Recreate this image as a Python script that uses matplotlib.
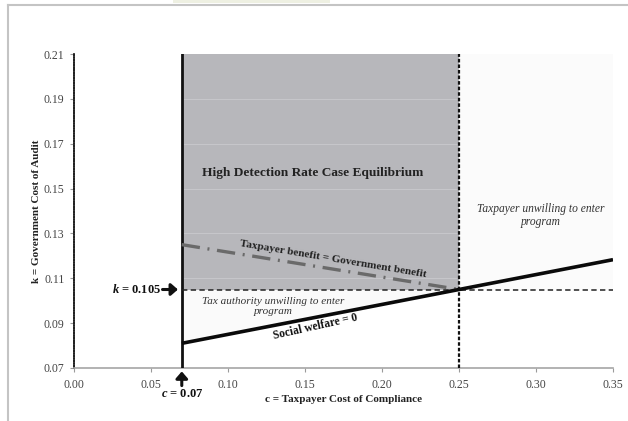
import matplotlib
matplotlib.use("Agg")
from matplotlib import pyplot as plt
from matplotlib.lines import Line2D
from matplotlib.patches import Rectangle
import numpy as np

# axis ticks
x_ticks = [0.00, 0.05, 0.10, 0.15, 0.20, 0.25, 0.30, 0.35]
y_ticks = [0.07, 0.09, 0.11, 0.13, 0.15, 0.17, 0.19, 0.21]

# key thresholds
c_min = 0.07      # taxpayer cost of compliance threshold
c_max = 0.25      # taxpayer unwilling beyond this
k_star = 0.105    # government cost of audit threshold
k_top = 0.21
k_bottom = 0.07

# social welfare = 0 line (c, k)
sw_c = [0.07, 0.25, 0.35]
sw_k = [0.081, 0.105, 0.1183]

# taxpayer benefit = government benefit line (c, k)
tb_c = [0.07, 0.25]
tb_k = [0.125, 0.105]

# faint gridlines visible in the grey region
grid_k = [0.11, 0.13, 0.15, 0.17, 0.19]

plt.rcParams['font.family'] = ['Liberation Serif', 'DejaVu Serif']
plt.rcParams['mathtext.fontset'] = 'custom'
plt.rcParams['mathtext.it'] = 'Liberation Serif:italic:bold'
plt.rcParams['mathtext.rm'] = 'Liberation Serif:bold'

fig = plt.figure(figsize=(6.28, 4.21), dpi=100)
ax = fig.add_axes([0.1178, 0.1259, 0.8583, 0.7458])

# outer frame (top and left) and faint bar at top
fig.add_artist(Line2D([8/628, 1], [1 - 5/421, 1 - 5/421], color='#c4c4c4', lw=1.5))
fig.add_artist(Line2D([8/628, 8/628], [0, 1 - 5/421], color='#c4c4c4', lw=1.5))
fig.add_artist(Rectangle((173/628, 1 - 3/421), 157/628, 3/421, color='#eef0e2', lw=0))

# regions
ax.fill_between([c_min, c_max], k_star, k_top, color='#b7b7bb', lw=0, zorder=1)
ax.fill_between([c_max, 0.35], k_star, k_top, color='#fbfbfb', lw=0, zorder=1)
sw_sub = np.interp([c_min, c_max], sw_c, sw_k)
ax.fill_between([c_min, c_max], sw_sub, k_star, color='#fafafa', lw=0, zorder=1)
for g in grid_k:
    ax.plot([c_min, c_max], [g, g], color='#c6c6ca', lw=0.8, zorder=1.5)

# boundary lines
ax.plot([c_min, c_min], [k_bottom, k_top], color='#111111', lw=2.0, zorder=3)
ax.plot([c_max, c_max], [k_bottom, k_top], color='#111111', lw=1.6,
        linestyle=(0, (1.6, 0.9)), zorder=3)
ax.plot([c_min, 0.35], [k_star, k_star], color='#222222', lw=1.1,
        linestyle=(0, (3.5, 2.2)), zorder=3)
ax.plot(tb_c, tb_k, color='#6a6a6a', lw=2.4,
        linestyle=(0, (5.5, 2.3, 0.6, 2.3)), zorder=3)
ax.plot(sw_c, sw_k, color='#0a0a0a', lw=2.6, zorder=4, solid_capstyle='butt')

# text annotations
ax.text(0.155, 0.157, 'High Detection Rate Case Equilibrium', fontsize=9.6,
        fontweight='bold', ha='center', va='center', color='#222222', zorder=5)
ax.text(0.303, 0.138, 'Taxpayer unwilling to enter\nprogram', fontsize=8.3,
        style='italic', ha='center', va='center', color='#333333',
        linespacing=1.1, zorder=5)
ax.text(0.1295, 0.0975, 'Tax authority unwilling to enter\nprogram', fontsize=8,
        style='italic', ha='center', va='center', color='#333333',
        linespacing=1.1, zorder=5)
ax.text(0.168, 0.1185, 'Taxpayer benefit = Government benefit', fontsize=8.1,
        fontweight='bold', ha='center', va='center', rotation=-9.5,
        color='#222222', rotation_mode='anchor', zorder=5)
ax.text(0.157, 0.0885, 'Social welfare = 0', fontsize=8.3, fontweight='bold',
        ha='center', va='center', rotation=12.5, rotation_mode='anchor',
        color='#111111', zorder=5)

# k = 0.105 marker
ax.text(0.0405, k_star, '$k$ = 0.105', fontsize=9, fontweight='bold',
        ha='center', va='center', color='#111111', zorder=5)
ax.annotate('', xy=(0.0675, k_star), xytext=(0.0575, k_star),
            arrowprops=dict(arrowstyle='-|>,head_width=0.35,head_length=0.4',
                            color='#111111', lw=2.2, shrinkA=0, shrinkB=0),
            zorder=5)

# c = 0.07 marker below axis
ax.annotate('', xy=(c_min, -0.011), xycoords=('data', 'axes fraction'),
            xytext=(c_min, -0.056), textcoords=('data', 'axes fraction'),
            arrowprops=dict(arrowstyle='-|>,head_width=0.35,head_length=0.4',
                            color='#111111', lw=2.2, shrinkA=0, shrinkB=0),
            annotation_clip=False)
ax.text(c_min, -0.082, '$c$ = 0.07', transform=ax.get_xaxis_transform(),
        fontsize=9, fontweight='bold', ha='center', va='center', color='#111111')

# axes styling
ax.set_xlim(0, 0.35)
ax.set_ylim(0.07, 0.21)
ax.set_xticks(x_ticks)
ax.set_yticks(y_ticks)
ax.set_xticklabels(['%.2f' % t for t in x_ticks])
ax.set_yticklabels(['%.2f' % t for t in y_ticks])
ax.tick_params(axis='both', labelsize=8.5, colors='#444444', length=3,
               width=0.8, direction='out')
ax.tick_params(axis='x', pad=5, color='#9a9a9a')
ax.tick_params(axis='y', pad=4, color='#9a9a9a')
for side in ['top', 'right']:
    ax.spines[side].set_visible(False)
ax.spines['bottom'].set_color('#a6a6a6')
ax.spines['bottom'].set_linewidth(1.2)
ax.spines['left'].set_color('#222222')
ax.spines['left'].set_linewidth(1.3)
ax.spines['left'].set_linestyle((0, (0.8, 0.6)))

ax.set_xlabel('c = Taxpayer Cost of Compliance', fontsize=8, fontweight='bold',
              color='#222222', labelpad=3)
ax.set_ylabel('k = Government Cost of Audit', fontsize=8, fontweight='bold',
              color='#222222', labelpad=2)

fig.savefig('out.png', dpi=100)
